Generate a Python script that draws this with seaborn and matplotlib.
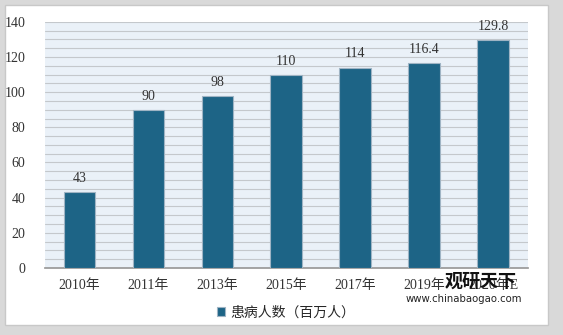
import matplotlib
matplotlib.use("Agg")
import matplotlib.pyplot as plt
import seaborn as sns
import pandas as pd
import numpy as np

categories = ["2010年", "2011年", "2013年", "2015年", "2017年", "2019年", "2020年E"]
values = [43, 90, 98, 110, 114, 116.4, 129.8]
value_labels = ["43", "90", "98", "110", "114", "116.4", "129.8"]
series_name = "患病人数（百万人）"

sns.set_theme(style="white")
plt.rcParams['font.family'] = ['Liberation Serif', 'Noto Sans CJK SC', 'DejaVu Sans']

df = pd.DataFrame({"year": categories, "value": values})

fig = plt.figure(figsize=(5.63, 3.35), dpi=100)
fig.patch.set_facecolor("#d9d9d9")
panel = plt.Rectangle((0.008, 0.03), 0.966, 0.955, transform=fig.transFigure,
                      facecolor="white", edgecolor="#c8c8c8", lw=1, zorder=-5)
fig.patches.append(panel)

ax = fig.add_axes([0.08, 0.2, 0.857, 0.735])
ax.set_facecolor("#eaf1f8")
color = "#1d6486"
sns.barplot(data=df, x="year", y="value", color=color, width=0.46, ax=ax,
            saturation=1, zorder=3, label=series_name)
for p in ax.patches:
    p.set_edgecolor("#9fb4c4")
    p.set_linewidth(0.8)

ax.set_ylim(0, 140)
ax.set_yticks(np.arange(0, 141, 20))
ax.set_yticks(np.arange(0, 141, 5), minor=True)
ax.grid(axis="y", which="both", color="#c4c8cc", lw=0.8, zorder=0)
ax.set_axisbelow(True)
for s in ["top", "right", "left"]:
    ax.spines[s].set_visible(False)
ax.spines["bottom"].set_color("#999999")
ax.set_xlabel("")
ax.set_ylabel("")
ax.tick_params(axis="both", labelsize=10, colors="#333333", length=0)
ax.tick_params(axis="x", pad=8)
ax.tick_params(axis="y", pad=14)

for i, (v, lab) in enumerate(zip(values, value_labels)):
    ax.text(i, v + 4, lab, ha="center", va="bottom", fontsize=10, color="#333333")

leg = ax.legend(loc="upper center", bbox_to_anchor=(0.5, -0.105), frameon=False,
                fontsize=10, handlelength=0.6, handleheight=0.6, handletextpad=0.4)

fig.text(0.853, 0.143, "观研天下", fontsize=13, fontweight="bold", color="#111111",
         family=["Noto Sans CJK SC"], ha="center", zorder=10)
fig.text(0.823, 0.1, "www.chinabaogao.com", fontsize=7.3, color="#222222",
         family=["DejaVu Sans"], ha="center", zorder=10)

fig.savefig("out.png", dpi=100, facecolor=fig.get_facecolor())
